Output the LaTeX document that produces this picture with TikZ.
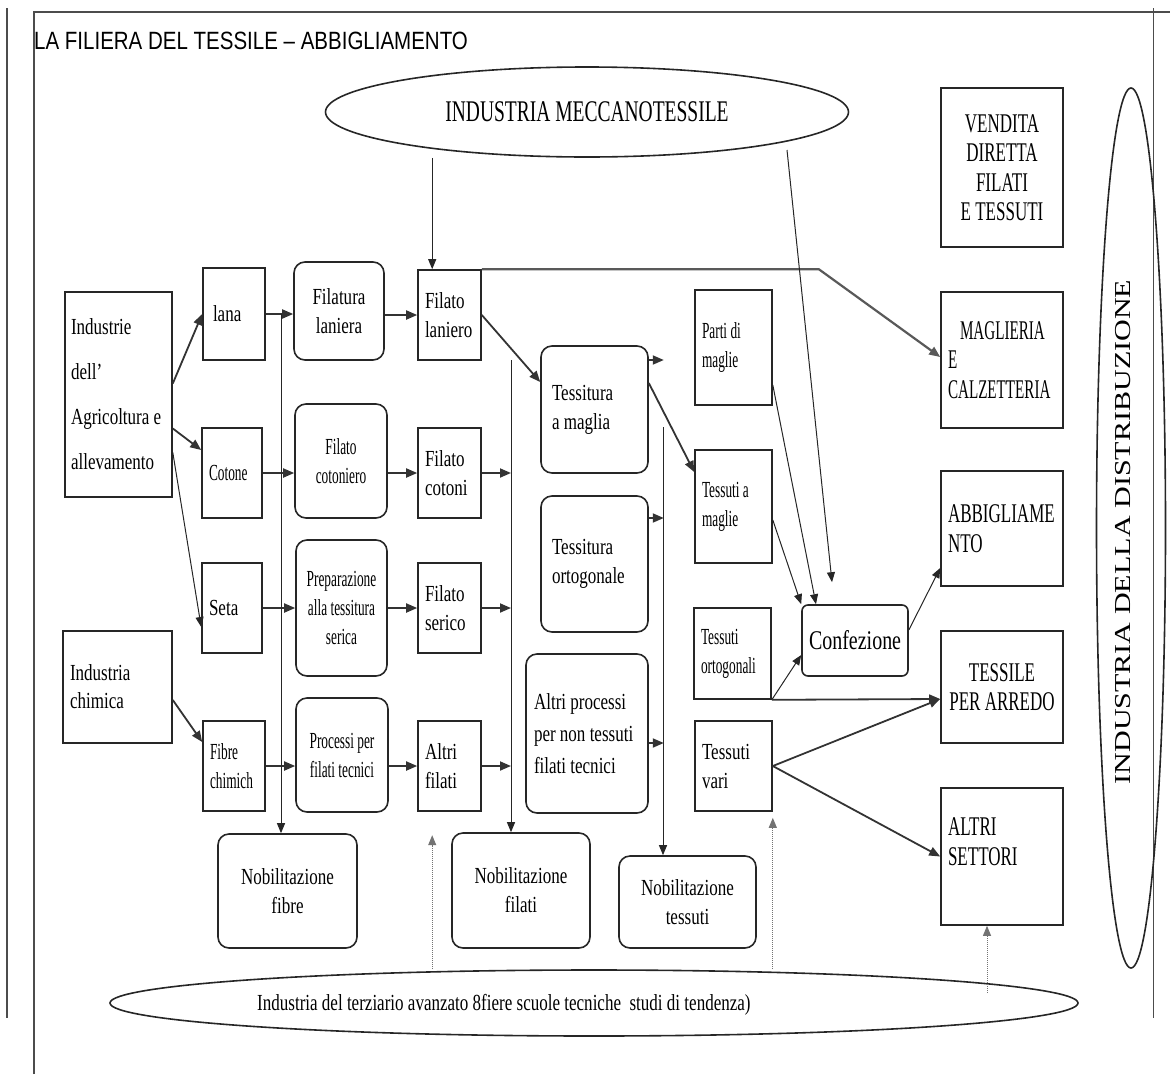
\documentclass[tikz,border=0pt]{standalone}
\usepackage{fontspec}
\setmainfont[FakeStretch=0.74]{Liberation Serif}
\newfontfamily\condserif[FakeStretch=0.58]{Liberation Serif}
\newfontfamily\capserif[FakeStretch=0.63]{Liberation Serif}
\newfontfamily\capnarrow[FakeStretch=0.56]{Liberation Serif}
\newfontfamily\ellserif[FakeStretch=0.65]{Liberation Serif}
\newfontfamily\distserif[FakeStretch=1.32]{Liberation Serif}
\newfontfamily\titlesans[FakeStretch=0.82]{Liberation Sans}
\definecolor{lineblk}{gray}{0.15}
\usetikzlibrary{arrows.meta,shapes.geometric}

\begin{document}
\begin{tikzpicture}[x=1pt, y=-1pt,
      sq/.style={draw=lineblk, line width=1.6pt, align=flush left,
                 inner xsep=7pt, inner ysep=0pt,
                 font=\fontsize{23}{29}\selectfont},
      sqc/.style={sq, align=flush center},
      rnd/.style={sq, rounded corners=11pt},
      rndc/.style={rnd, align=flush center},
      cond/.style={font=\condserif\fontsize{23}{29}\selectfont},
      caps/.style={font=\capserif\fontsize{27}{29.5}\selectfont},
      oval/.style={draw=lineblk, line width=1.6pt, ellipse, inner sep=0pt},
      arr/.style={-{Triangle[length=11pt,width=9pt]}, line width=1.8pt, draw=black!80},
      fine/.style={-{Triangle[length=10pt,width=8pt]}, line width=1pt, draw=black!85},
      dotarr/.style={fine, densely dotted, draw=black!55},
      bord/.style={line width=1.4pt, draw=black!70}
  ]
    \useasboundingbox (0,0) rectangle (1170,1074);
    \draw[bord] (7,8) -- (7,1018);
    \draw[bord] (34,1074) -- (34,12) -- (1170,12);
    \draw[bord, line width=1pt] (1153,8) -- (1153,1018);

    \node[anchor=west, inner sep=0pt, font=\titlesans\fontsize{25}{25}\selectfont] (title) at (34,41) {LA FILIERA DEL TESSILE – ABBIGLIAMENTO};

    \node[oval, minimum width=523pt, minimum height=90pt, font=\ellserif\fontsize{30}{30}\selectfont] (mecc) at (587,112) {INDUSTRIA MECCANOTESSILE};
    \node[oval, minimum width=968pt, minimum height=66pt] (terz) at (594,1003) {};
    \node[anchor=west, inner sep=0pt, font=\fontsize{23}{23}\selectfont] (terzlbl) at (257,1005) {Industria del terziario avanzato 8fiere scuole tecniche \ studi di tendenza)};
    \node[oval, minimum width=69pt, minimum height=880pt] (dist) at (1131,528) {};
    \node[rotate=90, inner sep=0pt, font=\distserif\fontsize{22.8}{22.8}\selectfont] (distlbl) at (1123,532) {INDUSTRIA DELLA DISTRIBUZIONE};

    \node[sq, inner xsep=6pt, text width=95pt, minimum height=205pt, font=\fontsize{23}{45}\selectfont] (ind) at (118.5,394.5) {Industrie\\dell'\\Agricoltura e\\allevamento};
    \node[sq, text width=95pt, minimum height=112pt, font=\fontsize{23}{28}\selectfont] (chim) at (117.5,687) {Industria\\chimica};

    \node[sq, inner xsep=10pt, text width=42pt, minimum height=92pt] (lana) at (234,314) {lana};
    \node[sq, cond, text width=46pt, minimum height=90pt] (cot) at (232,473) {Cotone};
    \node[sq, text width=46pt, minimum height=90pt] (seta) at (232,608) {Seta};
    \node[sq, cond, text width=48pt, minimum height=90pt] (fib) at (234,766) {Fibre\\chimich};

    \node[rndc, text width=76pt, minimum height=98pt] (filat) at (339,311) {Filatura\\laniera};
    \node[rndc, cond, text width=78pt, minimum height=114pt] (fcotn) at (341,461) {Filato\\cotoniero};
    \node[rndc, cond, text width=77pt, minimum height=136pt] (prep) at (341.5,608) {Preparazione\\alla tessitura\\serica};
    \node[rndc, cond, text width=78pt, minimum height=114pt] (proc) at (342,755) {Processi per\\filati tecnici};

    \node[sq, text width=49pt, minimum height=90pt] (flan) at (449.5,315) {Filato\\laniero};
    \node[sq, text width=49pt, minimum height=90pt] (fcot) at (449.5,473) {Filato\\cotoni};
    \node[sq, text width=49pt, minimum height=90pt] (fser) at (449.5,608) {Filato\\serico};
    \node[sq, text width=49pt, minimum height=90pt] (altf) at (449.5,766) {Altri\\filati};

    \node[rnd, inner xsep=11pt, text width=85pt, minimum height=127pt] (tsm) at (594.5,409.5) {Tessitura\\a maglia};
    \node[rnd, inner xsep=11pt, text width=85pt, minimum height=136pt] (tso) at (594.5,564) {Tessitura\\ortogonale};
    \node[rnd, inner xsep=8pt, text width=106pt, minimum height=159pt, font=\fontsize{23}{32}\selectfont] (altp) at (587,733.5) {Altri processi\\per non tessuti\\filati tecnici};

    \node[sq, cond, text width=63pt, minimum height=115pt] (parti) at (733.5,347.5) {Parti di\\maglie};
    \node[sq, cond, text width=63pt, minimum height=113pt] (tmag) at (733.5,506.5) {Tessuti a\\maglie};
    \node[sq, cond, text width=63pt, minimum height=91pt] (tort) at (732.5,653.5) {Tessuti\\ortogonali};
    \node[sq, text width=63pt, minimum height=90pt] (tvar) at (733.5,766) {Tessuti\\vari};

    \node[rndc, rounded corners=6pt, text width=92pt, minimum height=71pt, font=\fontsize{27}{27}\selectfont] (conf) at (855,640.5) {Confezione};

    \node[rndc, text width=125pt, minimum height=114pt] (nfib) at (287.5,891) {Nobilitazione\\fibre};
    \node[rndc, text width=124pt, minimum height=115pt] (nfil) at (521,890.5) {Nobilitazione\\filati};
    \node[rndc, text width=123pt, minimum height=92pt] (ntes) at (687.5,902) {Nobilitazione\\tessuti};

    \node[sqc, caps, inner xsep=4pt, text width=114pt, minimum height=159pt] (vend) at (1002,167.5) {VENDITA\\DIRETTA\\FILATI\\E TESSUTI};
    \node[sq, font=\capnarrow\fontsize{27}{29.5}\selectfont, text width=108pt, minimum height=136pt] (magl) at (1002,360) {\hspace*{12pt}MAGLIERIA\\E\\CALZETTERIA};
    \node[sq, caps, text width=108pt, minimum height=115pt] (abb) at (1002,528.5) {ABBIGLIAME\\NTO};
    \node[sqc, caps, inner xsep=4pt, text width=114pt, minimum height=112pt] (arred) at (1002,687) {TESSILE\\PER ARREDO};
    \node[sq, caps, text width=108pt, minimum height=137pt] (altr) at (1002,856.5) {ALTRI\\SETTORI\\\mbox{}};

    \coordinate (bus1) at (281,314);
    \coordinate (bus2) at (511,360);
    \coordinate (bus3) at (663,427);

    \draw[arr] ([yshift=11pt]ind.east) -- (lana.west);
    \draw[arr] ([yshift=-34pt]ind.east) -- ([yshift=23pt]cot.west);
    \draw[fine] ([yshift=-58pt]ind.east) -- ([yshift=-19pt]seta.west);
    \draw[arr] ([yshift=-13pt]chim.east) -- ([yshift=24pt]fib.west);

    \draw[arr] (lana.east) -- (lana.east -| filat.west);
    \draw[arr] (flan.west -| filat.east) -- (flan.west);
    \draw[arr] (cot.east) -- (cot.east -| fcotn.west);
    \draw[arr] (fcot.west -| fcotn.east) -- (fcot.west);
    \draw[arr] (seta.east) -- (seta.east -| prep.west);
    \draw[arr] (fser.west -| prep.east) -- (fser.west);
    \draw[arr] (fib.east) -- (fib.east -| proc.west);
    \draw[arr] (altf.west -| proc.east) -- (altf.west);

    \draw[fine] (bus1) -- (bus1 |- nfib.north);
    \draw[fine] (bus2) -- (bus2 |- nfil.north);
    \draw[fine] (bus3) -- (bus3 |- ntes.north);
    \foreach \n in {fcot,fser,altf} \draw[arr] (\n.east) -- (\n.east -| bus2);
    \draw[arr] ([yshift=49.5pt]tsm.east) -- ++(15,0);
    \draw[arr] ([yshift=46pt]tso.east) -- ++(15,0);
    \draw[arr] ([yshift=-9.5pt]altp.east) -- ++(15,0);

    \draw[arr] (flan.east) -- ([yshift=27.5pt]tsm.west);
    \draw[arr] ([yshift=26.5pt]tsm.east) -- ([yshift=34.5pt]tmag.west);
    \draw[arr, draw=black!65, line width=2.2pt] (flan.north east) -- ++(337,0) -- ([yshift=3pt]magl.west);
    \draw[fine] ([xshift=15pt]flan.north west |- mecc.south) -- ([xshift=15pt]flan.north west);
    \draw[fine] ([shift={(200,38)}]mecc.center) -- ([shift={(-23,-22)}]conf.north);
    \draw[fine] ([yshift=-37.5pt]parti.east) -- ([xshift=-39pt]conf.north);
    \draw[fine] ([yshift=-13.5pt]tmag.east) -- (conf.north west);
    \draw[fine] (tort.south east) -- ([yshift=-14.5pt]conf.west);
    \draw[arr] (tort.south east) -- ([yshift=-12pt]arred.west);
    \draw[arr] (tvar.east) -- ([yshift=-12pt]arred.west);
    \draw[arr] (tvar.east) -- (altr.west);
    \draw[fine] ([yshift=10.5pt]conf.east) -- ([yshift=-39.5pt]abb.west);

    \draw[dotarr] ([xshift=15pt]flan.north west |- terz.north) -- ++(0,-134);
    \draw[dotarr] (tvar.south east |- terz.north) -- ([yshift=-6pt]tvar.south east);
    \draw[dotarr] ([shift={(-15,67)}]altr.south) -- ([xshift=-15pt]altr.south);
  \end{tikzpicture}
\end{document}
